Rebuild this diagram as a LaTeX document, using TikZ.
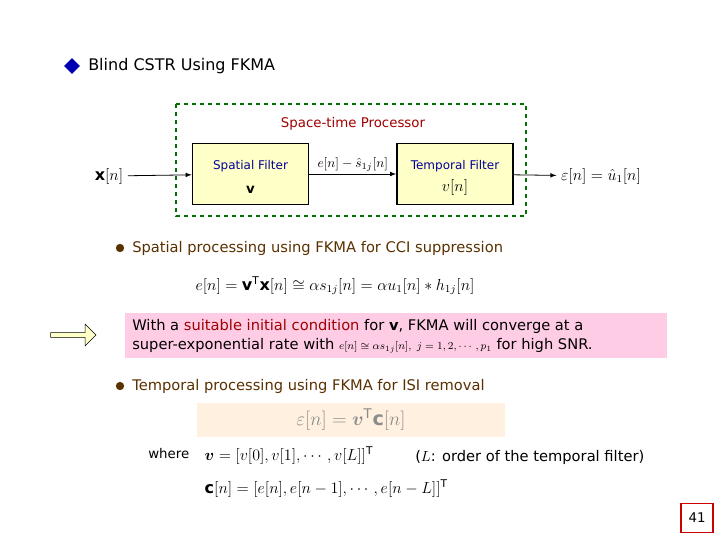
\documentclass[tikz,border=0pt]{standalone}
\usepackage{fontspec}
\setmainfont{DejaVu Sans}
\usepackage{amsmath,amssymb,bm}
\usetikzlibrary{arrows,shapes.arrows,shapes.geometric}
\definecolor{fbox}{HTML}{FFFFC8}
\definecolor{brn}{HTML}{5A3000}
\definecolor{dred}{HTML}{A00000}
\definecolor{pinkbg}{HTML}{FFCCE6}
\tikzset{filt/.style={rectangle,draw=black,line width=1.2pt,fill=fbox},
sig/.style={->,>=latex,semithick},
bul/.style={circle,fill=brn,inner sep=2.2pt},
txt/.style={anchor=west,inner sep=0pt,font=\fontsize{11}{13}\selectfont}}
\begin{document}
\begin{tikzpicture}[x=0.75pt,y=-0.75pt]
\useasboundingbox (0,0) rectangle (720,540);
% title
\node (dia) at (72,66)[diamond,fill=blue!70!black,inner sep=3pt]{};
\node (title) at (88,66)[txt,font=\fontsize{12}{14}\selectfont]{Blind CSTR Using FKMA};
% space-time processor
\draw[dashed,draw=green!45!black,thick] (176,104) rectangle (526,216);
\node (stp) at (353,124)[font=\fontsize{10}{12}\selectfont,text=dred]{Space-time Processor};
\node (sf) at (250.5,174)[filt,minimum width=87pt,minimum height=46pt]{};
\node at (250.5,166)[font=\fontsize{9}{11}\selectfont,text=blue!60!black]{Spatial Filter};
\node at (250.5,190){$\mathbf{v}$};
\node (tf) at (455,174)[filt,minimum width=87pt,minimum height=46pt]{};
\node at (455,166)[font=\fontsize{9}{11}\selectfont,text=blue!60!black]{Temporal Filter};
\node at (455,187)[font=\large]{$v[n]$};
\node (xin) at (109,176)[font=\large]{$\mathbf{x}[n]$};
\node (out) at (601,176)[font=\large]{$\varepsilon[n]=\hat{u}_1[n]$};
\draw[sig] (xin) -- (sf);
\draw[sig] (sf) -- node[above=2pt,inner sep=0pt]{$e[n]-\hat{s}_{1j}[n]$} (tf);
\draw[sig] (tf) -- (out);
% spatial processing
\node (b1) at (120,248)[bul]{};
\node (t1) at (132,248)[txt,text=brn]{Spatial processing using FKMA for CCI suppression};
\node (eq1) at (335,286)[font=\large]{$e[n]=\mathbf{v}^{\mathrm T}\mathbf{x}[n]\cong\alpha s_{1j}[n]=\alpha u_1[n]*h_{1j}[n]$};
\node (pink) at (396,335.5)[rectangle,fill=pinkbg,minimum width=406pt,minimum height=34pt]{};
\node (p1) at (132,326)[txt]{With a \textcolor{dred}{suitable initial condition} for $\mathbf{v}$, FKMA will converge at a};
\node (p2) at (132,346)[txt]{super-exponential rate with {\footnotesize$e[n]\cong\alpha s_{1j}[n],\ j=1,2,\cdots,p_1$} for high SNR.};
\node (arr) at (72,335)[single arrow,draw=black,fill=fbox,minimum width=16pt,minimum height=34pt,single arrow head extend=4pt,inner sep=1pt]{};
% temporal processing
\node (b2) at (120,386)[bul]{};
\node (t2) at (132,386)[txt,text=brn]{Temporal processing using FKMA for ISI removal};
\node (eq2) at (351,420)[rectangle,fill=orange!12,minimum width=231pt,minimum height=25pt,text=black!45,font=\Large]{$\varepsilon[n]=\bm{v}^{\mathrm T}\mathbf{c}[n]$};
\node (wh) at (148,454)[txt,font=\fontsize{10}{12}\selectfont]{where};
\node (eq3) at (200,456)[anchor=west,font=\large]{$\bm{v}=[v[0],v[1],\cdots,v[L]]^{\mathrm T}$};
\node (ord) at (415,457)[txt]{($L$: order of the temporal filter)};
\node (eq4) at (200,489)[anchor=west,font=\large]{$\mathbf{c}[n]=[e[n],e[n-1],\cdots,e[n-L]]^{\mathrm T}$};
% page number
\node (pg) at (697,518)[rectangle,draw=red!80!black,thick,minimum width=24pt,minimum height=22pt,fill=white]{41};
\end{tikzpicture}
\end{document}
